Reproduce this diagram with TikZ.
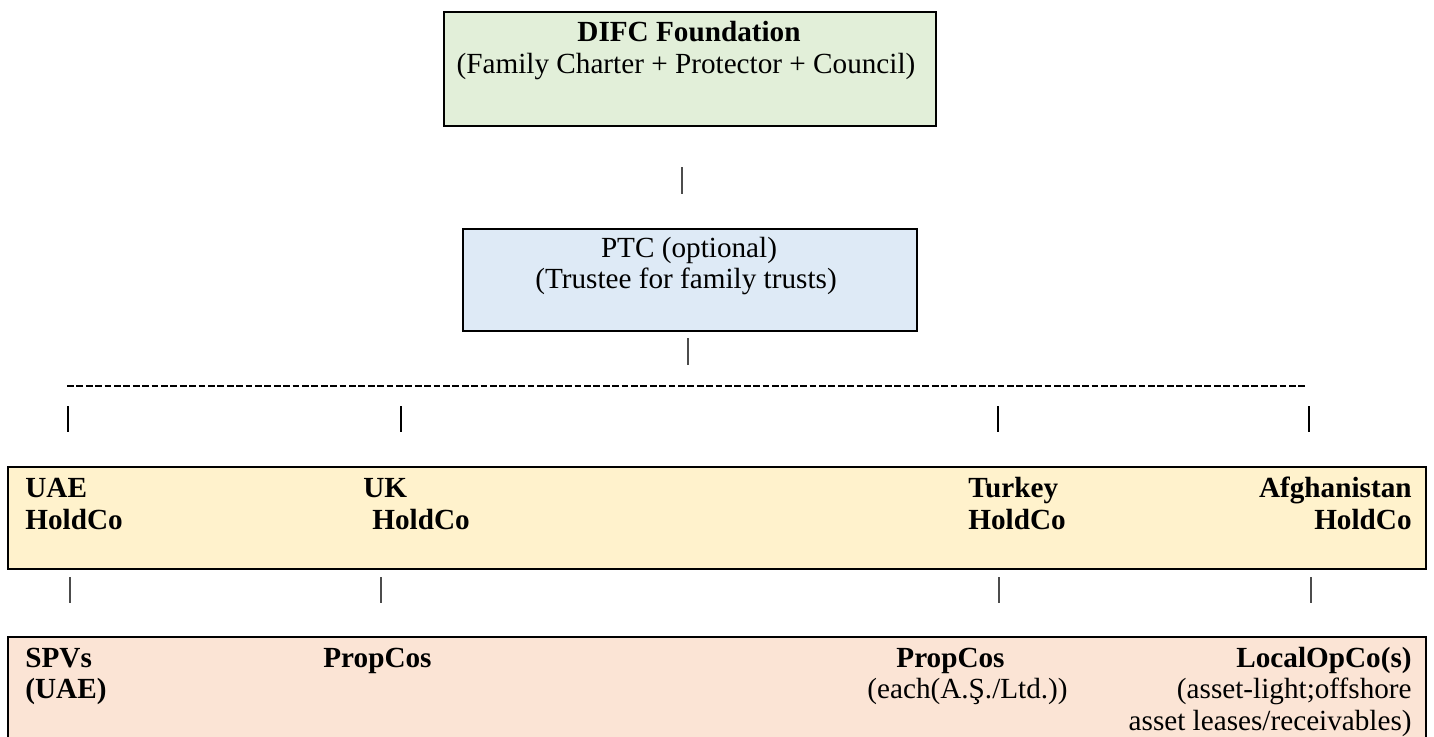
\documentclass[tikz,border=0pt]{standalone}
\usepackage{fontspec}
\setmainfont{Liberation Serif}
\usetikzlibrary{calc}
\definecolor{fdnfill}{HTML}{E2EFD9}
\definecolor{ptcfill}{HTML}{DEEAF6}
\definecolor{holdfill}{HTML}{FFF2CC}
\definecolor{subfill}{HTML}{FBE4D5}
\tikzset{
 tier/.style={draw,line width=1pt,inner sep=0pt,outer sep=0pt},
 lbl/.style={inner sep=0pt,font=\fontsize{14.6}{16}\selectfont},
 blbl/.style={inner sep=0pt,font=\fontsize{14.6}{16}\selectfont\bfseries},
 thinbar/.style={line width=0.6pt,draw=black!70},
 boldbar/.style={line width=1pt},
 hyphenrule/.style={line width=1pt,dash pattern=on 3.4pt off 1.3pt}
}

\begin{document}
\begin{tikzpicture}[x=0.5pt,y=-0.5pt]
\useasboundingbox (0,0) rectangle (1434,736);
% tiers
\node[tier,fill=fdnfill,minimum width=246pt,minimum height=57pt] (fdn) at (690,69) {};
\node[tier,fill=ptcfill,minimum width=227pt,minimum height=51pt] (ptc) at (690,280) {};
\node[tier,fill=holdfill,minimum width=709pt,minimum height=51pt] (hold) at (717,517.5) {};
\node[tier,fill=subfill,minimum width=709pt,minimum height=56pt] (sub) at (717,693) {};
% foundation and PTC texts
\node[blbl,anchor=base] (fdnA) at (689,41) {DIFC Foundation};
\node[lbl,anchor=base] (fdnB) at (686,73) {(Family Charter + Protector + Council)};
\node[lbl,anchor=base] (ptcA) at (689,257) {PTC (optional)};
\node[lbl,anchor=base] (ptcB) at (686,288) {(Trustee for family trusts)};
% holdco row
\node[blbl,anchor=base west] (uaeA) at (25,497) {UAE};
\node[blbl,anchor=base west] (uaeB) at (25,529) {HoldCo};
\node[blbl,anchor=base west] (ukA) at (363,497) {UK};
\node[blbl,anchor=base west] (ukB) at (372,529) {HoldCo};
\node[blbl,anchor=base west] (trA) at (968,497) {Turkey};
\node[blbl,anchor=base west] (trB) at (968,529) {HoldCo};
\node[blbl,anchor=base east] (afA) at (1412,497) {Afghanistan};
\node[blbl,anchor=base east] (afB) at (1412,529) {HoldCo};
% subsidiaries row
\node[blbl,anchor=base west] (spvA) at (25,667) {SPVs};
\node[blbl,anchor=base west] (spvB) at (25,698) {(UAE)};
\node[blbl,anchor=base west] (ukprop) at (323,667) {PropCos};
\node[blbl,anchor=base west] (trpropA) at (896,667) {PropCos};
\node[lbl,anchor=base west] (trpropB) at (867,698) {(each(A.Ş./Ltd.))};
\node[blbl,anchor=base east] (opA) at (1412,667) {LocalOpCo(s)};
\node[lbl,anchor=base east] (opB) at (1412,698) {(asset-light;offshore};
\node[lbl,anchor=base east] (opC) at (1412,730) {asset leases/receivables)};
% bars and rule
\coordinate (fdnbarT) at (682,167);
\coordinate (fdnbarB) at (682,194);
\coordinate (ptcbarT) at (688,338);
\coordinate (ptcbarB) at (688,365);
\draw[thinbar] (fdnbarT) -- (fdnbarB);
\draw[thinbar] (ptcbarT) -- (ptcbarB);
\coordinate (ruleW) at (67,386);
\coordinate (ruleE) at (1305,386);
\draw[hyphenrule] (ruleW) -- (ruleE);
\foreach \x/\n in {68/a,401/b,998/c,1309/d}{
  \coordinate (up\n) at (\x,406);
  \coordinate (dn\n) at (\x,432);
  \draw[boldbar] (up\n) -- (dn\n);
}
\foreach \x/\n in {70/a,381/b,999/c,1311/d}{
  \coordinate (hup\n) at (\x,577);
  \coordinate (hdn\n) at (\x,603);
  \draw[thinbar] (hup\n) -- (hdn\n);
}
\end{tikzpicture}
\end{document}
